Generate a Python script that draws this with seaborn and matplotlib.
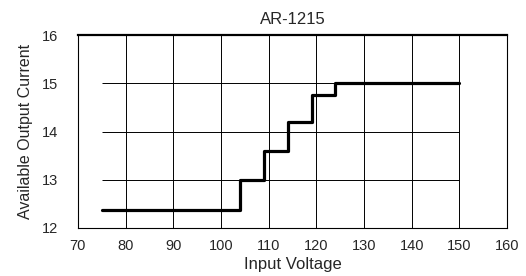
import pandas as pd
import matplotlib.pyplot as plt
import seaborn as sns

# step curve
voltage = [75, 104, 109, 114, 119, 124, 150]
current = [12.38, 13.0, 13.6, 14.2, 14.76, 15.0, 15.0]
x_ticks = [70, 80, 90, 100, 110, 120, 130, 140, 150, 160]
y_ticks = [12, 13, 14, 15, 16]

sns.set_style("white")
plt.rcParams["font.family"] = ["Liberation Sans", "DejaVu Sans"]

df = pd.DataFrame({"Input Voltage": voltage, "Available Output Current": current})

fig = plt.figure(figsize=(5.26, 2.76), dpi=100)
ax = fig.add_axes([0.148, 0.174, 0.816, 0.699])

# grid: vertical lines full height, horizontal only across data span
for xv in x_ticks[1:-1]:
    ax.axvline(xv, color="black", lw=0.7, zorder=1)
ax.hlines(y_ticks[1:-1], voltage[0], voltage[-1], color="black", lw=0.7, zorder=1)

sns.lineplot(data=df, x="Input Voltage", y="Available Output Current",
             drawstyle="steps-post", color="black", lw=2.3, ax=ax, zorder=3)

ax.set_xlim(x_ticks[0], x_ticks[-1])
ax.set_ylim(y_ticks[0], y_ticks[-1])
ax.set_xticks(x_ticks)
ax.set_yticks(y_ticks)
ax.tick_params(length=0, labelsize=10.5)
ax.tick_params(axis="x", pad=8)
ax.tick_params(axis="y", pad=14.5)
ax.set_title("AR-1215", fontsize=12, pad=8)
ax.set_xlabel("Input Voltage", fontsize=12, labelpad=2.5)
ax.set_ylabel("Available Output Current", fontsize=11.5, labelpad=6)

for side, sp in ax.spines.items():
    sp.set_visible(True)
    sp.set_color("black")
    sp.set_linewidth(0.8)
ax.spines["top"].set_linewidth(1.6)

fig.savefig("out.png", dpi=100)
plt.close(fig)
